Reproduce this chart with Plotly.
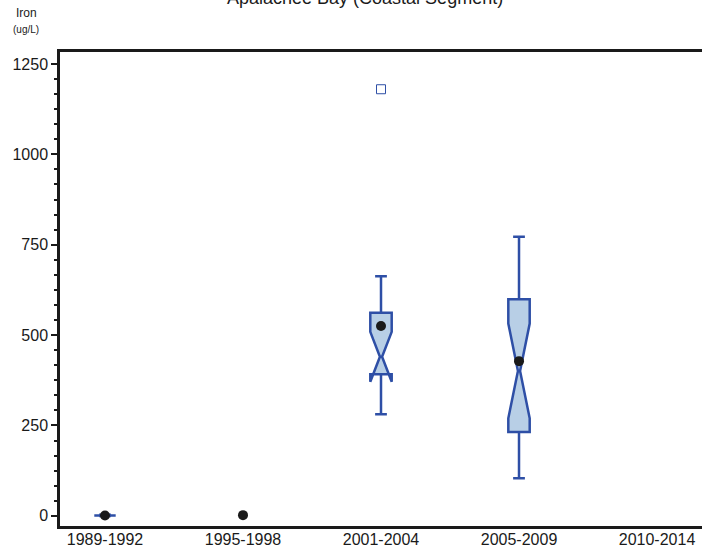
import plotly.graph_objects as go

categories = ["1989-1992", "1995-1998", "2001-2004", "2005-2009", "2010-2014"]

# box statistics (ug/L)
box_cats = ["1989-1992", "2001-2004", "2005-2009"]
box_q1 = [1, 392, 232]
box_median = [1, 440, 401]
box_q3 = [1, 562, 599]
box_lower = [0, 281, 104]
box_upper = [3, 663, 772]
box_notch = [0, 69, 131]

mean_cats = ["1989-1992", "1995-1998", "2001-2004", "2005-2009"]
mean_vals = [1, 2, 525, 428]

outlier_cats = ["2001-2004"]
outlier_vals = [1180]

title_text = "Apalachee Bay (Coastal Segment)"

blue = "#2E4FA6"
fill = "#B8CFE6"

fig = go.Figure()

fig.add_trace(go.Box(
    x=box_cats,
    q1=box_q1, median=box_median, q3=box_q3,
    lowerfence=box_lower, upperfence=box_upper,
    notchspan=box_notch,
    notched=True, notchwidth=0.45,
    width=0.155, whiskerwidth=0.55,
    fillcolor=fill,
    line=dict(color=blue, width=2.5),
    boxpoints=False,
    showlegend=False,
    hoverinfo="skip",
))

fig.add_trace(go.Scatter(
    x=mean_cats, y=mean_vals, mode="markers",
    marker=dict(symbol="circle", size=10, color="#1a1a1a"),
    showlegend=False, hoverinfo="skip",
))

fig.add_trace(go.Scatter(
    x=outlier_cats, y=outlier_vals, mode="markers",
    marker=dict(symbol="square-open", size=9, color=blue, line=dict(width=1)),
    showlegend=False, hoverinfo="skip",
))

fig.update_layout(
    width=702, height=550,
    margin=dict(l=60, r=0, t=52, b=24, autoexpand=False),
    plot_bgcolor="white", paper_bgcolor="white",
    font=dict(family="Liberation Sans, Arial, sans-serif", color="#1a1a1a"),
    xaxis=dict(
        type="category",
        categoryorder="array", categoryarray=categories,
        range=[-0.326, 4.326],
        showline=True, linecolor="#1a1a1a", linewidth=2.5,
        mirror=True, automargin=False,
        ticks="", showgrid=False, zeroline=False,
        ticklabelstandoff=-3,
        tickfont=dict(size=16, color="#1a1a1a"),
    ),
    yaxis=dict(
        range=[-28, 1283],
        tickvals=[0, 250, 500, 750, 1000, 1250],
        showline=True, linecolor="#1a1a1a", linewidth=2.5,
        automargin=False,
        ticks="outside", ticklen=6, tickwidth=2, tickcolor="#1a1a1a",
        minor=dict(dtick=250 / 6, tick0=0, ticks="outside", ticklen=3, tickwidth=2, tickcolor="#1a1a1a", showgrid=False),
        showgrid=False, zeroline=False,
        tickfont=dict(size=16, color="#1a1a1a"),
    ),
    annotations=[
        dict(text=title_text, xref="paper", yref="paper",
             x=(365 - 60) / 642, y=1 + (52 + 2) / 474, xanchor="center", yanchor="middle",
             showarrow=False, font=dict(size=18, color="#1a1a1a")),
        dict(text="Iron", xref="paper", yref="paper",
             x=(26 - 60) / 642, y=1 + (52 - 13) / 474, xanchor="center", yanchor="middle",
             showarrow=False, font=dict(size=12, color="#1a1a1a")),
        dict(text="(ug/L)", xref="paper", yref="paper",
             x=(26 - 60) / 642, y=1 + (52 - 30) / 474, xanchor="center", yanchor="middle",
             showarrow=False, font=dict(size=10, color="#1a1a1a")),
    ],
)

fig.write_html("out.html", post_script="document.body.style.margin='0';",
               config={"displayModeBar": False})
